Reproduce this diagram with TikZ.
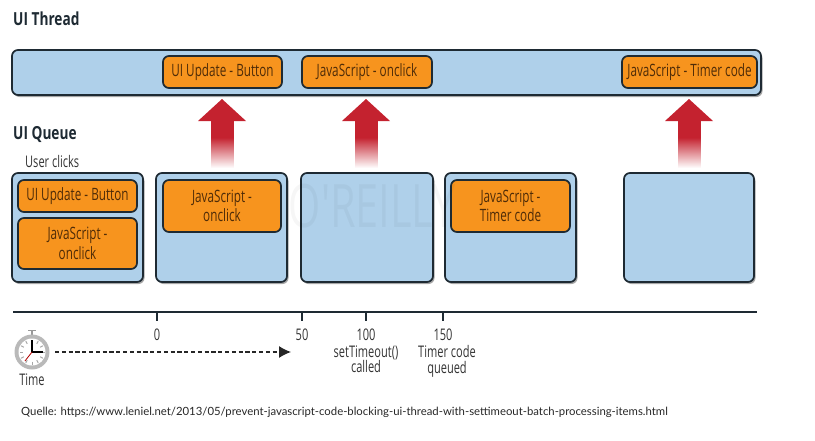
\documentclass[tikz,border=0pt]{standalone}
\usepackage{fontspec}
\setmainfont{Lato}
\newfontfamily\cond[FakeStretch=0.69]{Open Sans}
\newfontfamily\condt[FakeStretch=0.76]{Open Sans}
\usetikzlibrary{arrows.meta,shadows,fadings}
\definecolor{lightblue}{HTML}{AFD0EA}
\definecolor{orangebox}{HTML}{F7941E}
\definecolor{outline}{HTML}{1E2A33}
\definecolor{arrowred}{HTML}{C4222F}
\definecolor{txtdark}{HTML}{333333}
\definecolor{txtorange}{HTML}{4F2C08}
\tikzfading[name=upfade,top color=transparent!0,middle color=transparent!35,bottom color=transparent!100]
\tikzset{
  x=1pt,y=-1pt,
  bluebox/.style={draw=outline,line width=1.7pt,fill=lightblue,rounded corners=6pt,
    drop shadow={shadow xshift=1.5pt,shadow yshift=-2pt,opacity=.35,fill=black}},
  orangebar/.style={draw=outline,line width=1.7pt,fill=orangebox,rounded corners=6pt},
  bartext/.style={font=\cond\fontsize{17}{19.5}\selectfont,text=txtorange,align=center},
  title/.style={font=\condt\bfseries\fontsize{18}{20}\selectfont,text=outline,anchor=west,inner sep=0pt},
  lab/.style={font=\cond\fontsize{16}{15.2}\selectfont,text=txtdark,align=center,inner sep=0pt},
  tick/.style={draw=outline,line width=1.4pt},
}
\newcommand{\redup}[1]{%
  \fill[arrowred] (#1-24,121) -- (#1,99) -- (#1+24,121) -- cycle;
  \fill[arrowred] (#1-11.5,120.5) rectangle (#1+11.5,138);
  \fill[arrowred,path fading=upfade] (#1-11.5,137.5) rectangle (#1+11.5,168);
}
\begin{document}
\begin{tikzpicture}
\useasboundingbox (0,0) rectangle (815,440);
\node[title] (tthread) at (13,19) {UI Thread};
\node[title] (tqueue) at (13,134) {UI Queue};
\node[lab,anchor=west] (tclicks) at (25,161) {User clicks};

% thread bar
\draw[bluebox] (12,50) rectangle (761,95);
\draw[orangebar] (163,56) rectangle node[bartext] (th1) {UI Update - Button} (282,88);
\draw[orangebar] (302,56) rectangle node[bartext] (th2) {JavaScript - onclick} (432,88);
\draw[orangebar] (622,56) rectangle node[bartext] (th3) {JavaScript - Timer code} (757,88);

\redup{222}
\redup{366}
\redup{689}

% queue boxes
\draw[bluebox] (12,173) rectangle (143,282);
\draw[bluebox] (156,173) rectangle (287,282);
\draw[bluebox] (301,173) rectangle (433,282);
\draw[bluebox] (445,173) rectangle (576,282);
\draw[bluebox] (624,173) rectangle (754,282);

\draw[orangebar] (18,180) rectangle node[bartext] (q1) {UI Update - Button} (137,212);
\draw[orangebar] (18,218) rectangle node[bartext] (q2) {JavaScript -\\onclick} (137,269);
\draw[orangebar] (163,180) rectangle node[bartext] (q3) {JavaScript -\\onclick} (281,232);
\draw[orangebar] (451,180) rectangle node[bartext] (q4) {JavaScript -\\Timer code} (570,232);

% faint watermark
\node[font=\cond\fontsize{60}{60}\selectfont,text=black,opacity=.035,inner sep=0pt] (wm) at (372,206) {O'REILLY};

% timeline
\coordinate (tl0) at (13,312);
\coordinate (tl1) at (757,312);
\draw[draw=outline,line width=1.4pt] (tl0) -- (tl1);
\foreach \x in {157,302,366,443} \draw[tick] (\x,312) -- (\x,321);
\node[lab] (n0) at (157,335) {0};
\node[lab] (n50) at (302,335) {50};
\node[lab] (n100) at (366,335) {100};
\node[lab] (n150) at (443,335) {150};
\node[lab,anchor=north] (nset) at (366,345.5) {setTimeout()\\called};
\node[lab,anchor=north] (ntimer) at (447,345.5) {Timer code\\queued};
\node[lab] (ntime) at (32,380) {Time};

% stopwatch
\draw[gray!80,line width=1.5pt] (32,331) -- (32,336);
\draw[gray!80,line width=1.5pt] (28,330.5) -- (36,330.5);
\fill[gray!55] (32,352) circle (17.5);
\fill[white] (32,352) circle (13.5);
\foreach \a in {0,30,...,330} \draw[gray!70,line width=1pt] (32,352) ++(\a:9.5) -- ++(\a:3);
\draw[black,line width=1.3pt] (32,340) -- (32,352) -- (43,352);
\draw[red!70!black,line width=.8pt] (32,352) -- (25,361);

\coordinate (ds) at (55,352);
\coordinate (de) at (291,352);
\draw[draw=black!85,line width=1.2pt,dash pattern=on 4.2pt off 2.6pt,-{Latex[length=12pt,width=12pt]}] (ds) -- (de);

\node[anchor=west,inner sep=0pt,font=\fontsize{11.34}{14}\selectfont,text=black!85] (src) at (21,412.7) {Quelle: https://www.leniel.net/2013/05/prevent-javascript-code-blocking-ui-thread-with-settimeout-batch-processing-items.html};
\end{tikzpicture}
\end{document}
